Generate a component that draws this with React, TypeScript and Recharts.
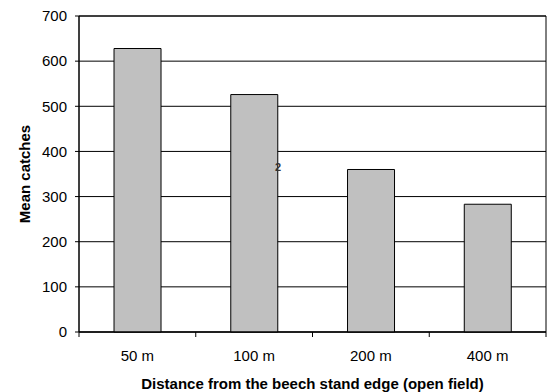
import React from "react";
import { BarChart, Bar, XAxis, YAxis, CartesianGrid, ReferenceArea } from "recharts";

const categories = ["50 m", "100 m", "200 m", "400 m"];
const meanCatches = [628, 526, 360, 283];
const yTicks = [0, 100, 200, 300, 400, 500, 600, 700];

const data = categories.map((c, i) => ({ name: c, value: meanCatches[i] }));

const W = 550;
const H = 392;
const M = { top: 16, right: 4, left: 0, bottom: 3 };
const Y_W = 79;
const X_H = 57;
const plotW = W - M.left - M.right - Y_W;
const band = plotW / categories.length;
const FONT = "'Liberation Sans', Arial, sans-serif";

const XTick = (props: any) => {
  const { x, y, payload, index } = props;
  const top = y - 8;
  return (
    <g>
      {index === 0 && (
        <line x1={x - band / 2} y1={top} x2={x - band / 2} y2={top + 5} stroke="#000" />
      )}
      <line x1={x + band / 2} y1={top} x2={x + band / 2} y2={top + 5} stroke="#000" />
      <text x={x} y={top + 29} textAnchor="middle" fill="#000" fontSize={15} fontFamily={FONT}>
        {payload.value}
      </text>
    </g>
  );
};

export default function App() {
  return (
    <div style={{ position: "absolute", left: 0, top: 0, width: W, height: H, background: "#fff" }}>
      <BarChart width={W} height={H} data={data} margin={M} barCategoryGap="30%">
        <CartesianGrid vertical={false} stroke="#000" strokeDasharray="" />
        <ReferenceArea y1={0} y2={700} fill="none" stroke="#000" strokeWidth={1} ifOverflow="visible" />
        <XAxis
          dataKey="name"
          height={X_H}
          axisLine={{ stroke: "#000" }}
          tickLine={false}
          tick={<XTick />}
          interval={0}
          label={{
            value: "Distance from the beech stand edge (open field)",
            position: "insideBottom",
            offset: 0,
            fill: "#000",
            fontSize: 15,
            fontWeight: "bold",
            fontFamily: FONT,
          }}
        />
        <YAxis
          width={Y_W}
          domain={[0, 700]}
          ticks={yTicks}
          axisLine={{ stroke: "#000" }}
          tickLine={{ stroke: "#000" }}
          tickSize={4}
          tickMargin={8}
          tick={{ fill: "#000", fontSize: 15, fontFamily: FONT }}
          label={{
            value: "Mean catches",
            angle: -90,
            position: "insideLeft",
            offset: 25,
            style: { textAnchor: "middle" },
            fill: "#000",
            fontSize: 15,
            fontWeight: "bold",
            fontFamily: FONT,
          }}
        />
        <Bar dataKey="value" fill="#c0c0c0" stroke="#000" strokeWidth={1} isAnimationActive={false} />
      </BarChart>
      <span
        style={{
          position: "absolute",
          left: 275,
          top: 161,
          fontFamily: FONT,
          fontSize: 11,
          lineHeight: "12px",
          fontWeight: "bold",
          color: "#333",
        }}
      >
        2
      </span>
    </div>
  );
}
